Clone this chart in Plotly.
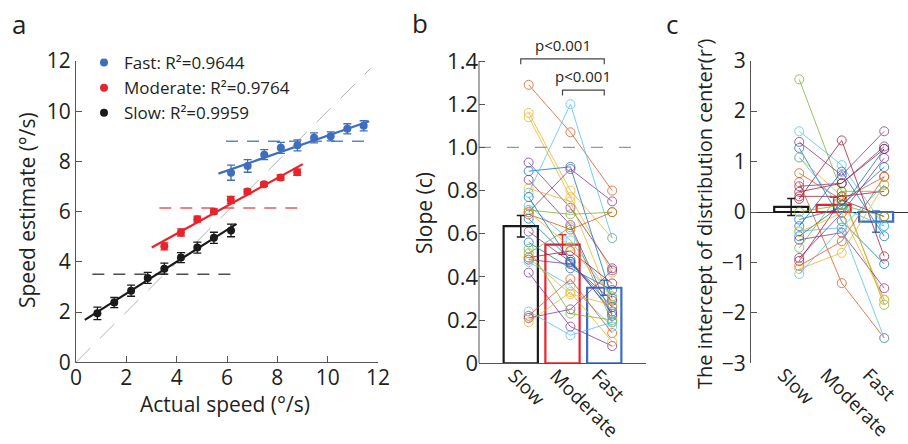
import plotly.graph_objects as go
import numpy as np

W, H = 908, 444
FONT = "Open Sans"

# ---------------- Panel a data ----------------
slow_x = [0.85, 1.52, 2.19, 2.85, 3.51, 4.17, 4.82, 5.48, 6.16]
slow_y = [1.95, 2.38, 2.85, 3.36, 3.73, 4.17, 4.57, 4.96, 5.25]
slow_err = [0.25, 0.2, 0.22, 0.22, 0.22, 0.2, 0.22, 0.22, 0.25]
mod_x = [3.51, 4.17, 4.82, 5.48, 6.15, 6.81, 7.47, 8.13, 8.79]
mod_y = [4.62, 5.17, 5.70, 6.01, 6.47, 6.80, 7.09, 7.36, 7.57]
mod_err = [0.14, 0.14, 0.12, 0.1, 0.14, 0.1, 0.08, 0.1, 0.12]
fast_x = [6.16, 6.82, 7.48, 8.14, 8.80, 9.46, 10.12, 10.78, 11.43]
fast_y = [7.55, 7.82, 8.27, 8.54, 8.64, 8.94, 9.0, 9.3, 9.42]
fast_err = [0.3, 0.25, 0.2, 0.22, 0.22, 0.2, 0.18, 0.2, 0.2]
group_names = ["Fast", "Moderate", "Slow"]
r2_values = ["0.9644", "0.9764", "0.9959"]
identity_line = [0, 11.7]
a_ticks = [0, 2, 4, 6, 8, 10, 12]

# ---------------- Panel b / c shared ----------------
categories = ["Slow", "Moderate", "Fast"]

# Panel b: slope per subject (Slow, Moderate, Fast)
b_slow = [1.29, 1.16, 1.14, 0.93, 0.89, 0.70, 0.79, 0.85, 0.81, 0.73, 0.71, 0.69, 0.67, 0.61,
          0.56, 0.51, 0.49, 0.48, 0.47, 0.42, 0.24, 0.22, 0.21, 0.19, 0.53, 0.70, 0.77, 0.49]
b_mod = [1.07, 0.80, 0.77, 0.72, 0.91, 0.90, 1.20, 0.64, 0.75, 0.57, 0.69, 0.62, 0.48, 0.47,
         0.44, 0.63, 0.52, 0.46, 0.36, 0.17, 0.13, 0.39, 0.25, 0.33, 0.23, 0.54, 0.47, 0.32]
b_fast = [0.80, 0.58, 0.42, 0.44, 0.30, 0.75, 0.58, 0.22, 0.27, 0.31, 0.70, 0.70, 0.23, 0.24,
          0.34, 0.19, 0.37, 0.29, 0.17, 0.08, 0.19, 0.14, 0.43, 0.10, 0.20, 0.31, 0.26, 0.27]
b_colors = ["O", "Y", "Y", "P", "B", "P", "L", "P", "Y", "L", "G", "O", "B", "P",
            "B", "G", "R", "P", "L", "P", "L", "O", "P", "Y", "G", "Y", "B", "Y"]
b_means = [0.635, 0.55, 0.35]
b_sem = [0.05, 0.045, 0.035]
b_ticks = [0, 0.2, 0.4, 0.6, 0.8, 1.0, 1.2, 1.4]
b_ticktext = ["0", "0.2", "0.4", "0.6", "0.8", "1.0", "1.2", "1.4"]
b_reference = 1.0
brackets = [(1, 3, 1.41), (2, 3, 1.265)]
bracket_text = ["p<0.001", "p<0.001"]

# Panel c: intercept per subject
c_slow = [2.63, 1.60, 1.39, 1.27, 1.08, 0.77, 0.59, 0.51, 0.31, 0.26, -0.15, -0.28, -0.38,
          -0.48, -0.55, -0.71, -0.91, -0.97, -1.07, -1.13, -1.23, 1.08, 0.40, -0.40, 0.0]
c_mod = [0.40, 0.93, 0.73, -0.18, 0.31, 0.24, -1.41, 0.57, 0.31, 1.42, 0.08, 0.80, -0.31,
         0.14, -0.41, 0.41, -0.02, 0.24, -0.58, -0.81, -0.31, 0.08, 0.57, -0.02, 0.14]
c_fast = [-1.84, -0.28, 1.60, -1.03, -1.74, 0.70, -2.50, 1.30, 0.41, -0.88, 1.25, -0.48, 0.54,
          0.89, -1.51, 0.41, 1.07, -0.09, 0.70, 0.54, -2.50, -0.28, 1.25, -1.74, -0.09]
c_colors = ["G", "L", "P", "B", "Y", "O", "O", "P", "R", "R", "B", "B", "L",
            "B", "P", "G", "P", "R", "O", "Y", "L", "L", "R", "Y", "G"]
c_means = [0.10, 0.14, -0.19]
c_sem = [0.17, 0.15, 0.21]
c_ticks = [-3, -2, -1, 0, 1, 2, 3]

palette = {"B": "#0072BD", "O": "#D95319", "Y": "#EDB120", "P": "#7E2F8E",
           "G": "#77AC30", "L": "#4DBEEE", "R": "#A2142F"}
group_colors = {"Slow": "#1a1a1a", "Moderate": "#e8232b", "Fast": "#3d6fbe"}
dash_colors = {"Slow": "#4d4d4d", "Moderate": "#ec5a5f", "Fast": "#5b86c9"}
axis_color = "#555555"
text_color = "#231f20"

fig = go.Figure()

# ---------------- Panel a ----------------
fig.add_trace(go.Scatter(x=identity_line, y=identity_line, mode="lines",
                         line=dict(color="#b3b3b3", width=1, dash="20px,14px"),
                         showlegend=False, hoverinfo="skip", xaxis="x", yaxis="y"))

groups = {"Fast": (fast_x, fast_y, fast_err), "Moderate": (mod_x, mod_y, mod_err),
          "Slow": (slow_x, slow_y, slow_err)}
for name in group_names:
    xs, ys, es = groups[name]
    xs_a = np.array(xs)
    col = group_colors[name]
    m = float(np.mean(xs_a))
    fig.add_trace(go.Scatter(x=[xs_a.min() - 0.2, xs_a.max() + 0.2], y=[m, m], mode="lines",
                             line=dict(color=dash_colors[name], width=1.5, dash="12px,9px"),
                             showlegend=False, hoverinfo="skip", xaxis="x", yaxis="y"))
    k, b = np.polyfit(xs_a, np.array(ys), 1)
    fx = np.array([xs_a.min() - 0.5, xs_a.max() + 0.22])
    fig.add_trace(go.Scatter(x=fx, y=k * fx + b, mode="lines",
                             line=dict(color=col, width=2.2),
                             showlegend=False, hoverinfo="skip", xaxis="x", yaxis="y"))

for name, r2 in zip(group_names, r2_values):
    xs, ys, es = groups[name]
    col = group_colors[name]
    fig.add_trace(go.Scatter(x=xs, y=ys, mode="markers", name=f"{name}: R²={r2}",
                             marker=dict(color=col, size=8),
                             error_y=dict(type="data", array=es, color=col, thickness=1.3, width=4),
                             xaxis="x", yaxis="y"))

# ---------------- Panel b ----------------
cat_x = np.array([1, 2, 3])
pt_off = 0.19
for s, mo, f, c in zip(b_slow, b_mod, b_fast, b_colors):
    fig.add_trace(go.Scatter(x=cat_x + pt_off, y=[s, mo, f], mode="lines+markers",
                             line=dict(color=palette[c], width=1),
                             marker=dict(symbol="circle-open", size=9, color=palette[c], line=dict(width=1)),
                             opacity=0.75, showlegend=False, hoverinfo="skip",
                             xaxis="x2", yaxis="y2"))
fig.add_trace(go.Scatter(x=[0, 4], y=[b_reference, b_reference], mode="lines",
                         line=dict(color="#999999", width=1.2, dash="12px,16px"),
                         showlegend=False, hoverinfo="skip", xaxis="x2", yaxis="y2"))
for i, cat in enumerate(categories):
    col = group_colors[cat]
    fig.add_trace(go.Bar(x=[cat_x[i]], y=[b_means[i]], width=0.82,
                         marker=dict(color="rgba(0,0,0,0)", line=dict(color=col, width=2.2)),
                         error_y=dict(type="data", array=[b_sem[i]], color=col, thickness=1.5, width=4),
                         showlegend=False, xaxis="x2", yaxis="y2"))
for (x0, x1, yb), txt in zip(brackets, bracket_text):
    fig.add_trace(go.Scatter(x=[x0, x0, x1, x1], y=[yb - 0.025, yb, yb, yb - 0.025], mode="lines",
                             line=dict(color="#444444", width=1.2),
                             showlegend=False, hoverinfo="skip", xaxis="x2", yaxis="y2"))
    fig.add_annotation(x=(x0 + x1) / 2, y=yb + 0.008, xref="x2", yref="y2", text=txt,
                       showarrow=False, yanchor="bottom", font=dict(size=15, color=text_color))

# ---------------- Panel c ----------------
for s, mo, f, c in zip(c_slow, c_mod, c_fast, c_colors):
    fig.add_trace(go.Scatter(x=cat_x + pt_off, y=[s, mo, f], mode="lines+markers",
                             line=dict(color=palette[c], width=1),
                             marker=dict(symbol="circle-open", size=9, color=palette[c], line=dict(width=1)),
                             opacity=0.75, showlegend=False, hoverinfo="skip",
                             xaxis="x3", yaxis="y3"))
for i, cat in enumerate(categories):
    col = group_colors[cat]
    fig.add_trace(go.Bar(x=[cat_x[i]], y=[c_means[i]], width=0.8,
                         marker=dict(color="rgba(0,0,0,0)", line=dict(color=col, width=2.2)),
                         error_y=dict(type="data", array=[c_sem[i]], color=col, thickness=1.5, width=4),
                         showlegend=False, xaxis="x3", yaxis="y3"))


def dx(p):
    return p / W


def dy(p):
    return 1 - p / H


common = dict(showgrid=False, zeroline=False, color=text_color, linecolor=axis_color,
              tickcolor=axis_color, linewidth=1, ticklen=6, tickwidth=1, automargin=False,
              ticklabeloverflow="allow")

fig.update_layout(
    width=W, height=H, margin=dict(l=0, r=0, t=0, b=0, autoexpand=False),
    paper_bgcolor="white", plot_bgcolor="rgba(0,0,0,0)",
    font=dict(family=FONT, color=text_color, size=18),
    barmode="overlay",
    showlegend=True,
    legend=dict(x=dx(84), y=dy(45), xanchor="left", yanchor="top", bgcolor="rgba(0,0,0,0)",
                font=dict(size=17), itemwidth=30, tracegroupgap=0, traceorder="normal"),
    xaxis=dict(domain=[dx(76), dx(378)], range=[0, 12], tickvals=a_ticks, ticks="inside",
               showline=True, anchor="y", tickfont=dict(size=21), ticklabelstandoff=-4, **common),
    yaxis=dict(domain=[dy(362.3), dy(61)], range=[0, 12], tickvals=a_ticks, ticks="inside",
               showline=True, anchor="x", tickfont=dict(size=21), **common),
    xaxis2=dict(domain=[dx(479), dx(646)], range=[0, 4], tickvals=[1, 2, 3], ticktext=categories,
                tickangle=45, ticks="", showline=True, anchor="y2", tickfont=dict(size=19),
                ticklabelstandoff=-7, ticklabelshift=-7, **common),
    yaxis2=dict(domain=[dy(363.3), dy(363.3 - 1.5 * 215.9)], range=[0, 1.5], tickvals=b_ticks,
                ticktext=b_ticktext, ticks="inside", showline=False, anchor="x2",
                tickfont=dict(size=22), **common),
    xaxis3=dict(domain=[dx(751), 1.0], range=[0.054, 3.75], tickvals=[1, 2, 3], ticktext=categories,
                tickangle=45, ticks="", showline=False, anchor="y3", tickfont=dict(size=19),
                ticklabelstandoff=-4, ticklabelshift=-8, **common),
    yaxis3=dict(domain=[dy(363.3), dy(60.7)], range=[-3, 3], tickvals=c_ticks, ticks="inside",
                showline=True, anchor="x3", tickfont=dict(size=21),
                **{**common, "zeroline": True}, zerolinecolor="#333333", zerolinewidth=1),
)

fig.add_shape(type="line", xref="x2 domain", yref="y2", x0=0, x1=0, y0=0, y1=b_ticks[-1],
              line=dict(color=axis_color, width=1))

ann = [
    ("a", 18.5, 24, 0, 26),
    ("b", 420, 23, 0, 26),
    ("c", 672, 24, 0, 26),
    ("Speed estimate (°/s)", 27, 210, -90, 21),
    ("Actual speed (°/s)", 225, 404, 0, 21),
    ("Slope (c)", 424, 213, -90, 21),
    ("The intercept of distribution center(r′)", 705, 214, -90, 20),
]
for txt, x, y, ang, size in ann:
    fig.add_annotation(x=dx(x), y=dy(y), xref="paper", yref="paper", text=txt, showarrow=False,
                       textangle=ang, xanchor="center", yanchor="middle",
                       font=dict(size=size, color=text_color))

fig.write_html("out.html", config={"displayModeBar": False},
               post_script="document.body.style.margin='0';document.body.style.overflow='hidden';")
